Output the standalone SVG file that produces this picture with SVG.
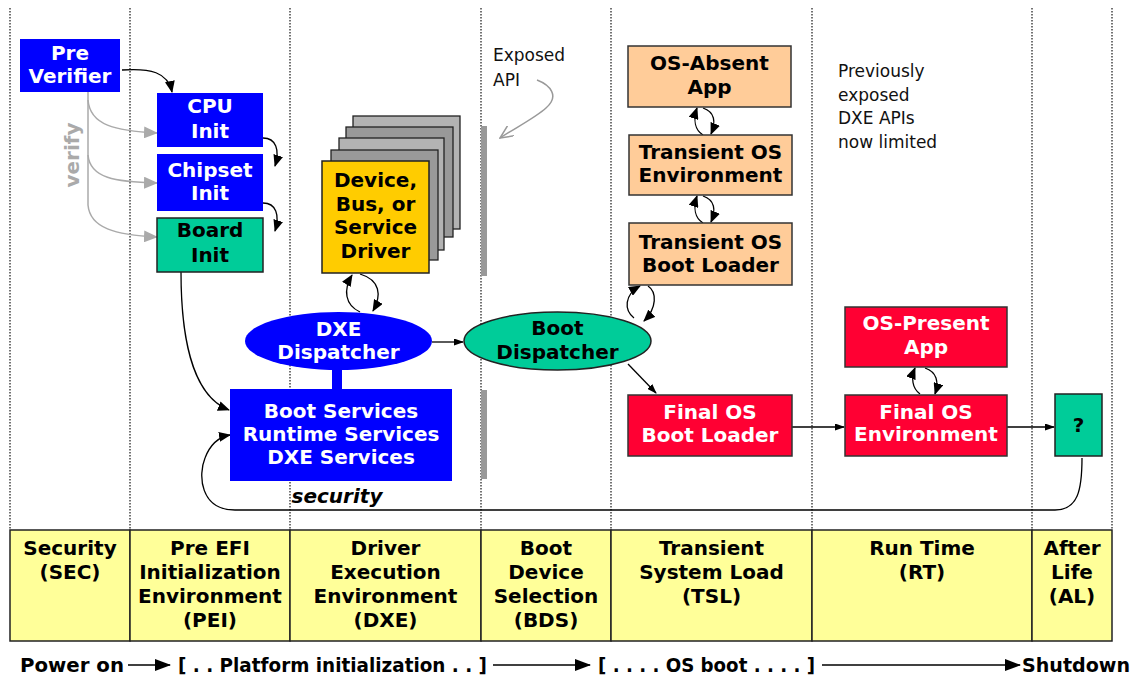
<svg xmlns="http://www.w3.org/2000/svg" width="1137" height="679" viewBox="0 0 1137 679">
<style>
.t{font-family:"DejaVu Sans","Liberation Sans",sans-serif;font-weight:bold;font-size:20px;text-anchor:middle}
.s{text-anchor:start}
.w{fill:#fff}
.k{fill:#000}
.note{font-family:"DejaVu Sans","Liberation Sans",sans-serif;font-size:17px;fill:#111}
.dot{stroke:#444;stroke-width:1.5;stroke-dasharray:1.5 1.5;fill:none}
.c{fill:none;stroke:#000;stroke-width:1.3}
.g{fill:none;stroke:#aaa;stroke-width:1.5}
.blue{fill:#0000ff}
.red{fill:#ff0033;stroke:#333;stroke-width:1.5}
.peach{fill:#ffcc99;stroke:#333;stroke-width:1.5}
.green{fill:#00cc99;stroke:#222;stroke-width:1.5}
.cell{fill:#ffff99;stroke:#222;stroke-width:1.5}
</style>
<defs>
<marker id="ah" viewBox="0 0 12 10" refX="11" refY="5" markerWidth="12" markerHeight="10" markerUnits="userSpaceOnUse" orient="auto"><path d="M0,0 L12,5 L0,10 z" fill="#000"/></marker>
<marker id="as" viewBox="0 0 10 7" refX="9" refY="3.5" markerWidth="10" markerHeight="7" markerUnits="userSpaceOnUse" orient="auto"><path d="M0,0 L10,3.5 L0,7 z" fill="#000"/></marker>
<marker id="ag" viewBox="0 0 14 12" refX="13" refY="6" markerWidth="14" markerHeight="12" markerUnits="userSpaceOnUse" orient="auto"><path d="M0,0 L14,6 L0,12 z" fill="#aaa"/></marker>
<marker id="ao" viewBox="0 0 14 12" refX="13" refY="6" markerWidth="14" markerHeight="12" markerUnits="userSpaceOnUse" orient="auto"><path d="M0,0 L13,6 L0,12" fill="none" stroke="#999" stroke-width="1.5"/></marker>
<marker id="ab" viewBox="0 0 16 12" refX="15" refY="6" markerWidth="16" markerHeight="12" markerUnits="userSpaceOnUse" orient="auto"><path d="M0,0 L16,6 L0,12 z" fill="#000"/></marker>
</defs>
<rect width="1137" height="679" fill="#fff"/>
<g id="lanes">
<line class="dot" x1="10" y1="8" x2="10" y2="530"/>
<line class="dot" x1="130" y1="8" x2="130" y2="530"/>
<line class="dot" x1="290" y1="8" x2="290" y2="530"/>
<line class="dot" x1="481" y1="8" x2="481" y2="530"/>
<line class="dot" x1="611" y1="8" x2="611" y2="530"/>
<line class="dot" x1="812" y1="8" x2="812" y2="530"/>
<line class="dot" x1="1032" y1="8" x2="1032" y2="530"/>
<line class="dot" x1="1112" y1="8" x2="1112" y2="530"/>
<rect x="481" y="126" width="6" height="150" fill="#999"/>
<rect x="481" y="390" width="6" height="89" fill="#999"/>
</g>
<g id="connectors">
<path class="c" d="M122,70 C150,68 168,72 172,92" marker-end="url(#ah)"/>
<path class="c" d="M263,138 C276,138 280,150 275,166" marker-end="url(#ah)"/>
<path class="c" d="M263,203 C276,203 280,215 275,231" marker-end="url(#ah)"/>
<path class="g" d="M88,92 L88,205"/>
<path class="g" d="M88,100 C90,125 115,131 157,133" marker-end="url(#ag)"/>
<path class="g" d="M88,155 C90,178 115,182 157,183" marker-end="url(#ag)"/>
<path class="g" d="M88,205 C90,228 115,235 157,237" marker-end="url(#ag)"/>
<path class="c" d="M181,272 C181,330 190,395 229,410" marker-end="url(#ah)"/>
<path class="c" d="M360,312 C345,305 343,290 352,275" marker-end="url(#ah)"/>
<path class="c" d="M360,274 C380,280 382,295 373,311" marker-end="url(#ah)"/>
<rect x="332" y="369" width="10" height="21" fill="#0000ff"/>
<path class="c" d="M432,342 L463,342" marker-end="url(#as)"/>
<path class="c" d="M703,135 C695,130 693,120 697,108" marker-end="url(#ah)"/>
<path class="c" d="M703,108 C715,112 716,122 711,134" marker-end="url(#ah)"/>
<path class="c" d="M703,223 C695,218 693,208 697,196" marker-end="url(#ah)"/>
<path class="c" d="M703,196 C715,200 716,210 711,222" marker-end="url(#ah)"/>
<path class="c" d="M634,318 C624,310 624,295 640,286" marker-end="url(#ah)"/>
<path class="c" d="M648,286 C657,292 657,308 644,321" marker-end="url(#ah)"/>
<path class="c" d="M628,364 L656,393" marker-end="url(#as)"/>
<path class="c" d="M792,427 L844,427" marker-end="url(#as)"/>
<path class="c" d="M1007,427 L1054,427" marker-end="url(#as)"/>
<path class="c" d="M920,394 C912,388 911,378 915,368" marker-end="url(#ah)"/>
<path class="c" d="M925,368 C937,372 939,382 935,394" marker-end="url(#ah)"/>
<path class="c" d="M1082,458 C1082,490 1078,510 1055,510 L235,510 C200,510 198,475 205,458 C210,445 218,437 230,435" marker-end="url(#ah)"/>
<path d="M537,80 C550,85 560,96 546,108 C535,118 515,128 500,138" fill="none" stroke="#999" stroke-width="1.5" marker-end="url(#ao)"/>
</g>
<g id="pre-verifier"><rect class="blue" x="20" y="39" width="100" height="53"/><text class="t w" x="70" y="60">Pre</text><text class="t w" x="70" y="83">Verifier</text></g>
<g id="cpu-init"><rect class="blue" x="157" y="93" width="106" height="54"/><text class="t w" x="210" y="113">CPU</text><text class="t w" x="210" y="138">Init</text></g>
<g id="chipset-init"><rect class="blue" x="157" y="154" width="106" height="57"/><text class="t w" x="210" y="177">Chipset</text><text class="t w" x="210" y="200">Init</text></g>
<g id="board-init"><rect class="green" x="157" y="218" width="106" height="54"/><text class="t k" x="210" y="237">Board</text><text class="t k" x="210" y="262">Init</text></g>
<text class="t" x="0" y="0" fill="#aaa" font-size="18.5" transform="translate(79,155) rotate(-90)">verify</text>
<g id="driver">
<rect x="353" y="116" width="107" height="113" fill="#b3b3b3" stroke="#222" stroke-width="1.3"/>
<rect x="346" y="127" width="107" height="110" fill="#999" stroke="#222" stroke-width="1.3"/>
<rect x="339" y="138" width="105" height="112" fill="#b3b3b3" stroke="#222" stroke-width="1.3"/>
<rect x="331" y="150" width="107" height="110" fill="#999" stroke="#222" stroke-width="1.3"/>
<rect x="322" y="161" width="107" height="112" fill="#ffcc00" stroke="#222" stroke-width="1.5"/>
<text class="t k" x="375.5" y="187">Device,</text><text class="t k" x="375.5" y="210.5">Bus, or</text><text class="t k" x="375.5" y="234">Service</text><text class="t k" x="375.5" y="257.5">Driver</text>
</g>
<g id="dxe-dispatcher"><ellipse class="blue" cx="338.5" cy="341" rx="93.5" ry="29"/><text class="t w" x="338.5" y="336">DXE</text><text class="t w" x="338.5" y="359">Dispatcher</text></g>
<g id="boot-dispatcher"><ellipse class="green" cx="557.5" cy="341" rx="93.5" ry="29"/><text class="t k" x="557.5" y="335">Boot</text><text class="t k" x="557.5" y="359">Dispatcher</text></g>
<g id="services"><rect class="blue" x="230" y="389" width="222" height="92"/><text class="t w" x="341" y="418">Boot Services</text><text class="t w" x="341" y="441">Runtime Services</text><text class="t w" x="341" y="464">DXE Services</text></g>
<text class="t k" x="337" y="503" font-style="italic">security</text>
<g id="os-absent"><rect class="peach" x="628" y="46" width="163" height="61"/><text class="t k" x="709.5" y="70">OS-Absent</text><text class="t k" x="709.5" y="94">App</text></g>
<g id="transient-env"><rect class="peach" x="629" y="135" width="163" height="60"/><text class="t k" x="710.5" y="159">Transient OS</text><text class="t k" x="710.5" y="182">Environment</text></g>
<g id="transient-loader"><rect class="peach" x="629" y="223" width="163" height="62"/><text class="t k" x="710.5" y="249">Transient OS</text><text class="t k" x="710.5" y="272">Boot Loader</text></g>
<g id="final-loader"><rect class="red" x="628" y="395" width="164" height="61"/><text class="t w" x="710" y="419">Final OS</text><text class="t w" x="710" y="442">Boot Loader</text></g>
<g id="os-present"><rect class="red" x="845" y="307" width="162" height="60"/><text class="t w" x="926" y="330">OS-Present</text><text class="t w" x="926" y="354">App</text></g>
<g id="final-env"><rect class="red" x="845" y="395" width="162" height="61"/><text class="t w" x="926" y="419">Final OS</text><text class="t w" x="926" y="441">Environment</text></g>
<g id="after"><rect class="green" x="1055" y="394" width="47" height="62"/><text class="t k" x="1078.5" y="432">?</text></g>
<g id="notes">
<text class="note" x="493" y="61">Exposed</text><text class="note" x="493" y="86">API</text>
<text class="note" x="838" y="77">Previously</text><text class="note" x="838" y="100.5">exposed</text><text class="note" x="838" y="124">DXE APIs</text><text class="note" x="838" y="148">now limited</text>
</g>
<g id="phases">
<rect class="cell" x="10" y="530" width="120" height="111"/>
<rect class="cell" x="130" y="530" width="160" height="111"/>
<rect class="cell" x="290" y="530" width="191" height="111"/>
<rect class="cell" x="481" y="530" width="130" height="111"/>
<rect class="cell" x="611" y="530" width="201" height="111"/>
<rect class="cell" x="812" y="530" width="220" height="111"/>
<rect class="cell" x="1032" y="530" width="80" height="111"/>
<text class="t k" x="70" y="555">Security</text><text class="t k" x="70" y="579">(SEC)</text>
<text class="t k" x="210" y="555">Pre EFI</text><text class="t k" x="210" y="579">Initialization</text><text class="t k" x="210" y="603">Environment</text><text class="t k" x="210" y="627">(PEI)</text>
<text class="t k" x="385.5" y="555">Driver</text><text class="t k" x="385.5" y="579">Execution</text><text class="t k" x="385.5" y="603">Environment</text><text class="t k" x="385.5" y="627">(DXE)</text>
<text class="t k" x="546" y="555">Boot</text><text class="t k" x="546" y="579">Device</text><text class="t k" x="546" y="603">Selection</text><text class="t k" x="546" y="627">(BDS)</text>
<text class="t k" x="711.5" y="555">Transient</text><text class="t k" x="711.5" y="579">System Load</text><text class="t k" x="711.5" y="603">(TSL)</text>
<text class="t k" x="922" y="555">Run Time</text><text class="t k" x="922" y="579">(RT)</text>
<text class="t k" x="1072" y="555">After</text><text class="t k" x="1072" y="579">Life</text><text class="t k" x="1072" y="603">(AL)</text>
</g>
<g id="timeline">
<text class="t k s" x="20" y="672" textLength="104" lengthAdjust="spacingAndGlyphs">Power on</text>
<path class="c" d="M128,665 L170,665" stroke-width="2" marker-end="url(#ab)"/>
<text class="t k s" x="178" y="672" textLength="309" lengthAdjust="spacingAndGlyphs">[ . . Platform initialization . . ]</text>
<path class="c" d="M493,665 L590,665" stroke-width="2" marker-end="url(#ab)"/>
<text class="t k s" x="598" y="672" textLength="217" lengthAdjust="spacingAndGlyphs">[ . . . . OS boot . . . . ]</text>
<path class="c" d="M822,665 L1020,665" stroke-width="2" marker-end="url(#ab)"/>
<text class="t k s" x="1022" y="672" textLength="108" lengthAdjust="spacingAndGlyphs">Shutdown</text>
</g>
</svg>
